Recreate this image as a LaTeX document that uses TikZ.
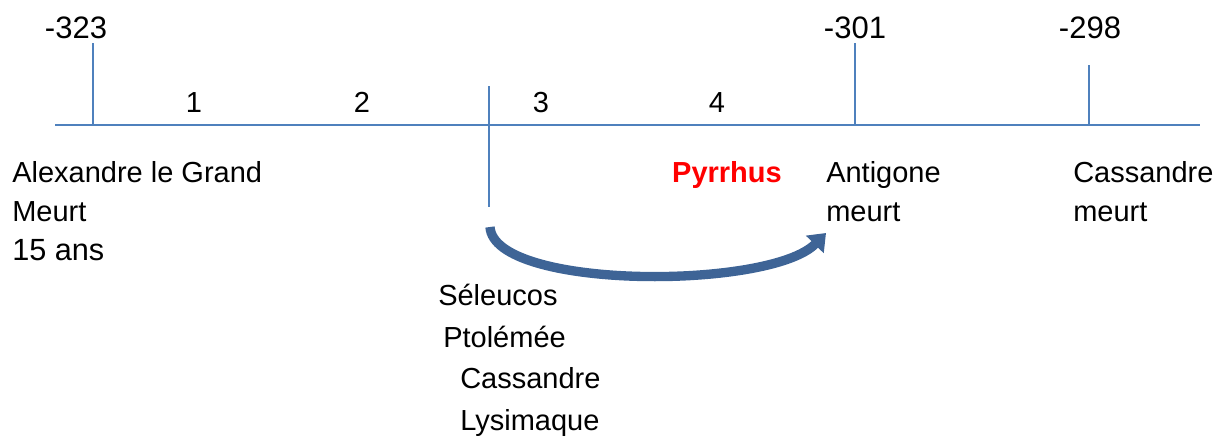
\documentclass[tikz,border=0pt]{standalone}
\usepackage{fontspec}
\setmainfont{Liberation Sans}
\usetikzlibrary{arrows.meta}
\usetikzlibrary{positioning}
\definecolor{axisblue}{RGB}{79,129,189}
\definecolor{arrowblue}{RGB}{62,100,150}

\begin{document}
\begin{tikzpicture}[x=0.75pt, y=-0.75pt]
	\tikzstyle{yearnode}=[anchor=base, inner sep=0pt, font=\fontsize{23.25}{28}\selectfont]
	\tikzstyle{numnode}=[anchor=base, inner sep=0pt, font=\fontsize{21.75}{26}\selectfont]
	\tikzstyle{textnode}=[anchor=base west, inner sep=0pt, font=\fontsize{21.75}{26}\selectfont]
	\tikzstyle{axisline}=[draw=axisblue, line width=1.5pt]
	\useasboundingbox (0,0) rectangle (1216,436);
	
	\coordinate (a0) at (55,125);
	\coordinate (a1) at (1200,125);
	\coordinate (k0) at (93,125);
	\coordinate (k0t) at (93,43);
	\coordinate (k1t) at (489,86);
	\coordinate (k1b) at (489,207);
	\coordinate (k2) at (855,125);
	\coordinate (k2t) at (855,43);
	\coordinate (k3) at (1089,125);
	\coordinate (k3t) at (1089,65);
	\draw [axisline] (a0) -- (a1);
	\draw [axisline] (k0t) -- (k0);
	\draw [axisline] (k1t) -- (k1b);
	\draw [axisline] (k2t) -- (k2);
	\draw [axisline] (k3t) -- (k3);
	
	\node (y0) at (76,38) [yearnode] {-323};
	\node (y1) at (855,38) [yearnode] {-301};
	\node (y2) at (1090,38) [yearnode] {-298};
	
	\node (n1) at (194,112) [numnode] {1};
	\node (n2) at (362,112) [numnode] {2};
	\node (n3) at (541,112) [numnode] {3};
	\node (n4) at (717,112) [numnode] {4};
	
	\node (t0) at (12,182) [textnode] {Alexandre le Grand};
	\node (t0b) at (12,221) [textnode] {Meurt};
	\node (t0c) at (12,260) [textnode, font=\fontsize{23}{28}\selectfont] {15 ans};
	\node (p0) at (727,182) [numnode, text=red, font=\fontsize{21.75}{26}\selectfont\bfseries] {Pyrrhus};
	\node (t1) at (826,182) [textnode] {Antigone};
	\node (t1b) at (826,221) [textnode] {meurt};
	\node (t2) at (1073,182) [textnode] {Cassandre};
	\node (t2b) at (1073,221) [textnode] {meurt};
	
	\node (s0) at (438,305) [textnode] {Séleucos};
	\node (s1) at (443,347) [textnode] {Ptolémée};
	\node (s2) at (460,388) [textnode] {Cassandre};
	\node (s3) at (460,430) [textnode] {Lysimaque};
	
	\coordinate (r0) at (490,227);
	\coordinate (r1) at (826,233);
	\draw [-{Triangle[length=12pt,width=18pt]}, line width=7pt, arrowblue] (r0) .. controls (494,290) and (770,290) .. (r1);
\end{tikzpicture}
\end{document}
